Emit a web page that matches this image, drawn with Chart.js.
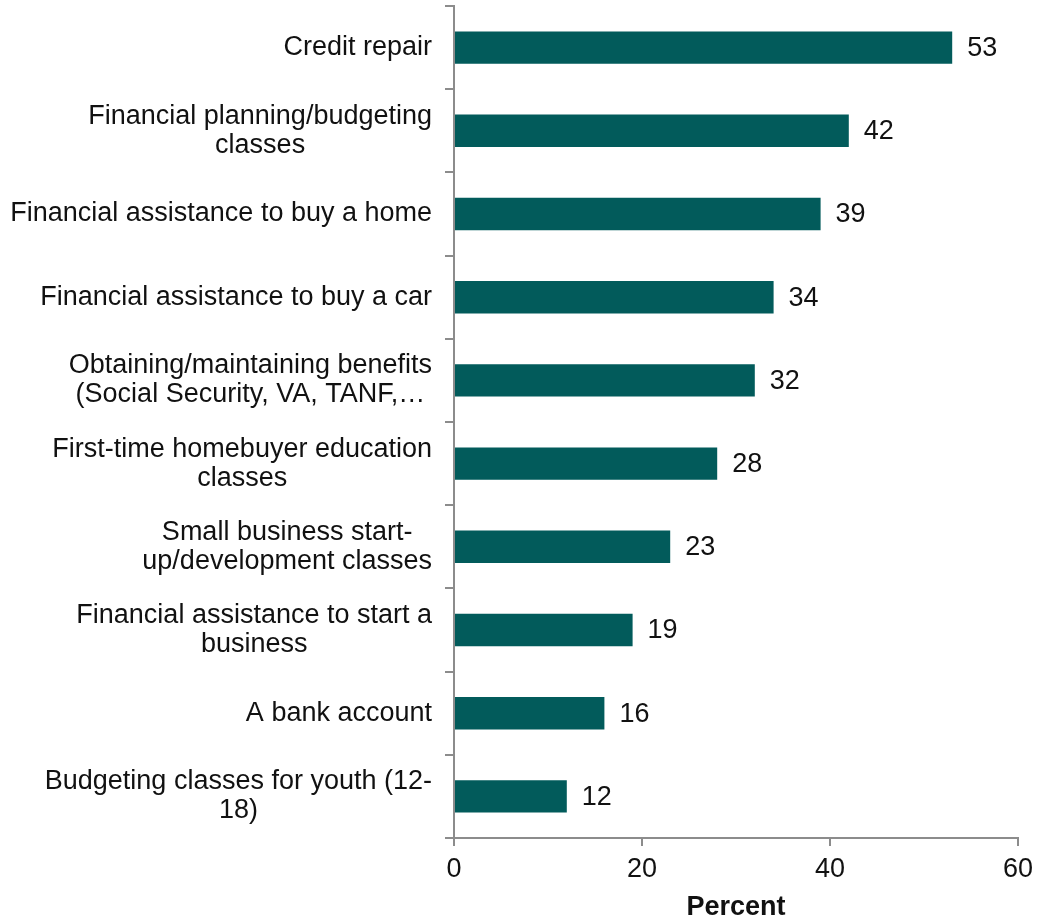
<!DOCTYPE html>
<html>
<head>
<meta charset="utf-8">
<script src="https://cdn.jsdelivr.net/npm/chart.js@4"></script>
<style>
  html, body { margin: 0; padding: 0; background: #fff; }
  #wrap { width: 1049px; height: 920px; }
</style>
</head>
<body>
<div id="wrap"><canvas id="chart1" width="1049" height="920"></canvas></div>
<script>
var categories = [
    ['Credit repair'],
    ['Financial planning/budgeting', 'classes'],
    ['Financial assistance to buy a home'],
    ['Financial assistance to buy a car'],
    ['Obtaining/maintaining benefits', '(Social Security, VA, TANF,\u2026'],
    ['First-time homebuyer education', 'classes'],
    ['Small business start-', 'up/development classes'],
    ['Financial assistance to start a', 'business'],
    ['A bank account'],
    ['Budgeting classes for youth (12-', '18)']
];
var percents = [53, 42, 39, 34, 32, 28, 23, 19, 16, 12];
var xTicks = [0, 20, 40, 60];

var barColor = '#025b5b';
var axisColor = '#8c8c8c';
var fontName = "'Liberation Sans', Arial, sans-serif";

// number to the right of every bar
var valueLabels = {
    id: 'valueLabels',
    afterDatasetsDraw: function(chart) {
        var ctx = chart.ctx;
        var meta = chart.getDatasetMeta(0);
        ctx.save();
        ctx.font = '27px ' + fontName;
        ctx.fillStyle = '#111';
        ctx.textBaseline = 'middle';
        ctx.textAlign = 'left';
        meta.data.forEach(function(bar, i) {
            ctx.fillText(String(percents[i]), bar.x + 15, bar.y + 1);
        });
        ctx.restore();
    }
};

// category labels: block right-aligned to the axis, lines centred inside the block
var categoryLabels = {
    id: 'categoryLabels',
    afterDraw: function(chart) {
        var ctx = chart.ctx;
        var yScale = chart.scales.y;
        var right = yScale.right - 22;
        var lh = 29;
        ctx.save();
        ctx.font = '27px ' + fontName;
        ctx.fillStyle = '#111';
        ctx.textBaseline = 'middle';
        ctx.textAlign = 'center';
        categories.forEach(function(lines, i) {
            var y = yScale.getPixelForTick(i);
            var w = 0;
            lines.forEach(function(t) { w = Math.max(w, ctx.measureText(t).width); });
            var cx = right - w / 2;
            lines.forEach(function(t, k) {
                ctx.fillText(t, cx, y + (k - (lines.length - 1) / 2) * lh);
            });
        });
        ctx.restore();
    }
};

var ctx = document.getElementById('chart1').getContext('2d');

var myChart1 = new Chart(ctx, {
    type: 'bar',
    data: {
        labels: categories,
        datasets: [{
            label: 'Percent',
            data: percents,
            backgroundColor: barColor,
            borderWidth: 0,
            categoryPercentage: 1,
            barPercentage: 0.39
        }]
    },
    options: {
        indexAxis: 'y',
        responsive: false,
        animation: false,
        layout: {
            padding: { top: 6, right: 31, bottom: 0, left: 4 }
        },
        plugins: {
            legend: { display: false },
            tooltip: { enabled: false }
        },
        scales: {
            y: {
                afterFit: function(scale) {
                    scale.width = 450;
                    scale.paddingTop = 0;
                    scale.paddingBottom = 0;
                },
                grid: {
                    drawOnChartArea: false,
                    drawTicks: true,
                    tickLength: 9,
                    color: axisColor,
                    lineWidth: 2,
                    offset: true
                },
                border: { color: axisColor, width: 2 },
                ticks: { display: false }
            },
            x: {
                min: 0,
                max: 60,
                afterFit: function(scale) {
                    scale.height = 82;
                    scale.paddingLeft = 0;
                    scale.paddingRight = 0;
                },
                afterBuildTicks: function(scale) {
                    scale.ticks = xTicks.map(function(v) { return { value: v }; });
                },
                grid: {
                    drawOnChartArea: false,
                    drawTicks: true,
                    tickLength: 8,
                    color: axisColor,
                    lineWidth: 2
                },
                border: { color: axisColor, width: 2 },
                ticks: {
                    color: '#111',
                    padding: 7,
                    maxRotation: 0,
                    font: { family: fontName, size: 27 }
                },
                title: {
                    display: true,
                    text: 'Percent',
                    color: '#111',
                    padding: { top: 2, bottom: -4 },
                    font: { family: fontName, size: 27, weight: 'bold' }
                }
            }
        }
    },
    plugins: [valueLabels, categoryLabels]
});
</script>
</body>
</html>
